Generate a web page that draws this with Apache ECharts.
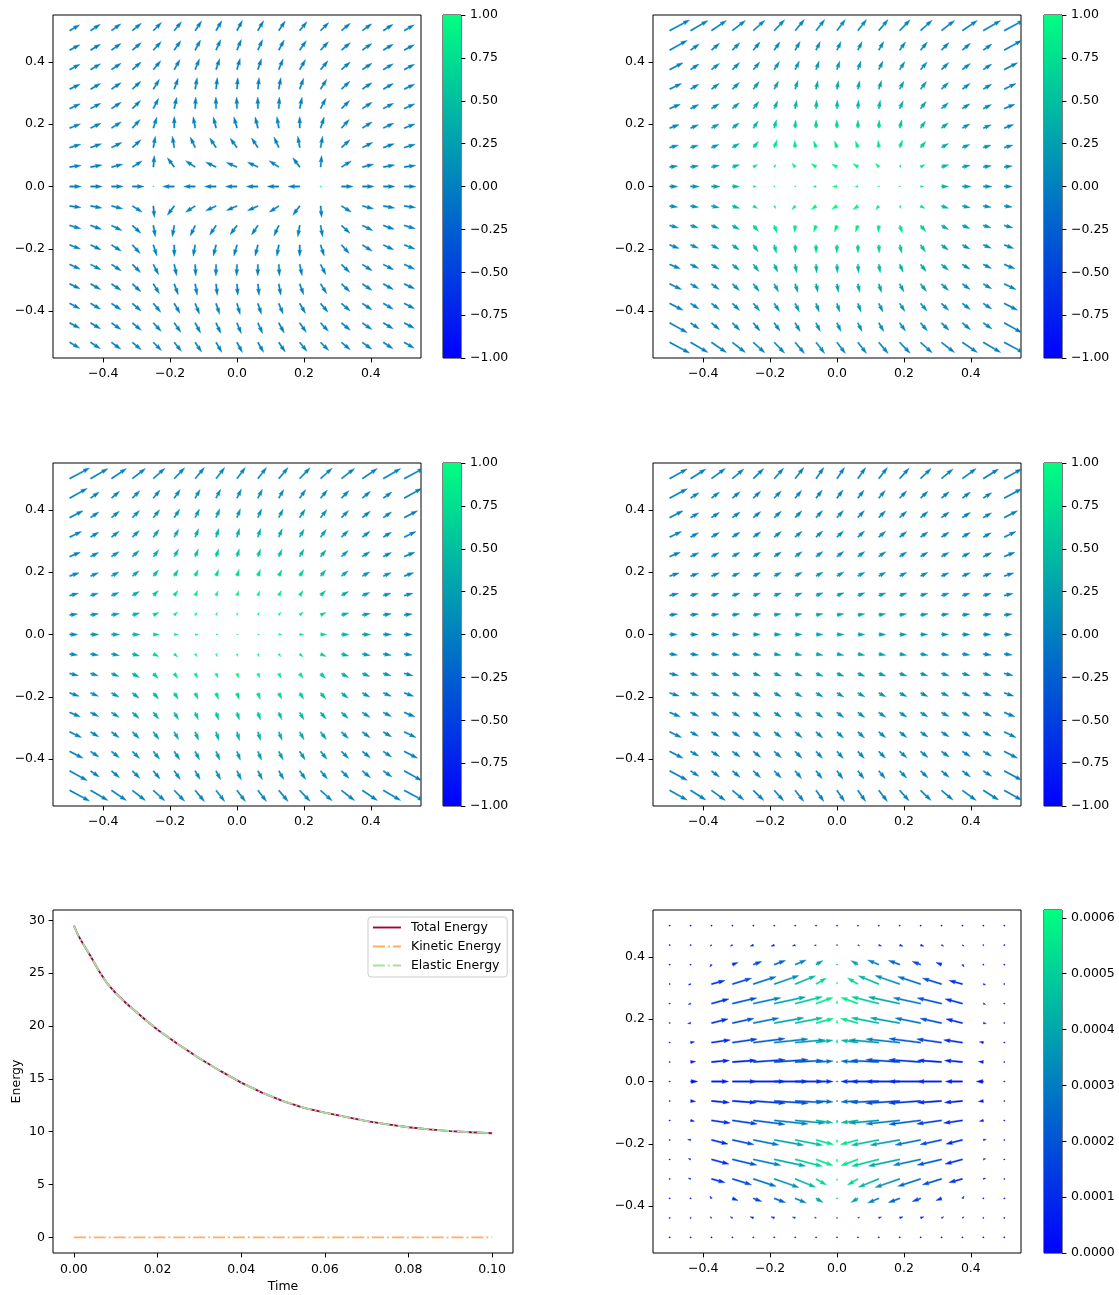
<!DOCTYPE html>
<html><head><meta charset="utf-8">
<script src="https://cdn.jsdelivr.net/npm/echarts@6/dist/echarts.min.js"></script>
<style>html,body{margin:0;padding:0;background:#fff}#c{width:1119px;height:1295px}</style>
</head><body><div id="c"></div><script>
// ---------------- data ----------------
const XS = [-0.5,-0.4375,-0.375,-0.3125,-0.25,-0.1875,-0.125,-0.0625,0,0.0625,0.125,0.1875,0.25,0.3125,0.375,0.4375,0.5];
const YS = [0.5,0.4375,0.375,0.3125,0.25,0.1875,0.125,0.0625,0,-0.0625,-0.125,-0.1875,-0.25,-0.3125,-0.375,-0.4375,-0.5];
const Q_TICKS = [-0.4,-0.2,0,0.2,0.4];
const CB_TICKS = [-1,-0.75,-0.5,-0.25,0,0.25,0.5,0.75,1];
const CB6_TICKS = [0,0.0001,0.0002,0.0003,0.0004,0.0005,0.0006];
const CB6_MAX = 0.000614;
const T_TICKS = [0,0.02,0.04,0.06,0.08,0.1];
const E_TICKS = [0,5,10,15,20,25,30];

// panel 1: normalized direction field (angle in degrees, null = zero vector)
const ANG1 = [
[30,33,36,40,45,51,56,60,62,60,56,51,45,40,36,33,30],
[28,31,35,40,47,55,62,66,68,66,62,55,47,40,35,31,28],
[27,30,34,41,50,60,68,72,74,72,68,60,50,41,34,30,27],
[25,29,34,43,58,70,80,84,86,84,80,70,58,43,34,29,25],
[24,27,33,45,63,78,87,91,92,91,87,78,63,45,33,27,24],
[21,25,32,48,72,90,100,104,106,104,100,90,72,48,32,25,21],
[16,19,26,43,80,100,115,124,127,124,115,100,80,43,26,19,16],
[8,10,14,32,85,127,147,155,157,155,147,127,85,32,14,10,8],
[0,0,0,0,null,180,180,180,180,180,180,180,null,0,0,0,0],
[-8,-10,-14,-32,-85,-127,-147,-155,-157,-155,-147,-127,-85,-32,-14,-10,-8],
[-16,-19,-26,-43,-80,-100,-115,-124,-127,-124,-115,-100,-80,-43,-26,-19,-16],
[-21,-25,-32,-48,-72,-90,-100,-104,-106,-104,-100,-90,-72,-48,-32,-25,-21],
[-24,-27,-33,-45,-63,-78,-87,-91,-92,-91,-87,-78,-63,-45,-33,-27,-24],
[-25,-29,-34,-43,-58,-70,-80,-84,-86,-84,-80,-70,-58,-43,-34,-29,-25],
[-27,-30,-34,-41,-50,-60,-68,-72,-74,-72,-68,-60,-50,-41,-34,-30,-27],
[-28,-31,-35,-40,-47,-55,-62,-66,-68,-66,-62,-55,-47,-40,-35,-31,-28],
[-30,-33,-36,-40,-45,-51,-56,-60,-62,-60,-56,-51,-45,-40,-36,-33,-30]];

// panel 2
const ANG2 = [
[28,30,34,38,42,46,50,52,53,52,50,46,42,38,34,30,28],
[29,35,40,45,50,55,60,64,65,64,60,55,50,45,40,35,29],
[27,33,38,44,50,57,64,70,72,70,64,57,50,44,38,33,27],
[25,30,36,43,52,62,72,78,80,78,72,62,52,43,36,30,25],
[22,26,32,40,52,66,80,86,88,86,80,66,52,40,32,26,22],
[20,22,28,37,55,75,87,90,92,90,87,75,55,37,28,22,20],
[15,17,22,30,50,70,95,110,110,110,95,70,50,30,22,17,15],
[8,9,12,18,30,60,130,145,150,145,130,60,30,18,12,9,8],
[0,0,0,0,0,0,0,180,180,180,0,0,0,0,0,0,0],
[-8,-9,-12,-18,-30,-60,-130,-145,-150,-145,-130,-60,-30,-18,-12,-9,-8],
[-15,-17,-22,-30,-50,-70,-95,-110,-110,-110,-95,-70,-50,-30,-22,-17,-15],
[-20,-22,-28,-37,-55,-75,-87,-90,-92,-90,-87,-75,-55,-37,-28,-22,-20],
[-22,-26,-32,-40,-52,-66,-80,-86,-88,-86,-80,-66,-52,-40,-32,-26,-22],
[-25,-30,-36,-43,-52,-62,-72,-78,-80,-78,-72,-62,-52,-43,-36,-30,-25],
[-27,-33,-38,-44,-50,-57,-64,-70,-72,-70,-64,-57,-50,-44,-38,-33,-27],
[-29,-35,-40,-45,-50,-55,-60,-64,-65,-64,-60,-55,-50,-45,-40,-35,-29],
[-28,-30,-34,-38,-42,-46,-50,-52,-53,-52,-50,-46,-42,-38,-34,-30,-28]];
const MAG2 = [
[22.5,20,18,16.5,15.5,15,14.5,14,14,14,14.5,15,15.5,16.5,18,20,22.5],
[20,10.5,10.5,10.5,10.5,10,10,9.5,9.5,9.5,10,10,10.5,10.5,10.5,10.5,20],
[15,10,10,10,10,9.5,9.5,9,9,9,9.5,9.5,10,10,10,10,15],
[13,9.5,9.5,9.5,9.5,9,9,8.5,8.5,8.5,9,9,9.5,9.5,9.5,9.5,13],
[11.5,9,9,9,9,8.5,8.5,8.5,8.5,8.5,8.5,8.5,9,9,9,9,11.5],
[10,8.5,8.5,8.5,8.5,8.5,8,8,8,8,8,8.5,8.5,8.5,8.5,8.5,10],
[9,8,8,8,8,8,7,7,7,7,7,8,8,8,8,8,9],
[8,8,8,7.5,5,3,5,6,6,6,5,3,5,7.5,8,8,8],
[8,8.5,8.5,7,3,1,1,3,4.5,3,1,1,3,7,8.5,8.5,8],
[8,8,8,7.5,5,3,5,6,6,6,5,3,5,7.5,8,8,8],
[9,8,8,8,8,8,7,7,7,7,7,8,8,8,8,8,9],
[10,8.5,8.5,8.5,8.5,8.5,8,8,8,8,8,8.5,8.5,8.5,8.5,8.5,10],
[11.5,9,9,9,9,8.5,8.5,8.5,8.5,8.5,8.5,8.5,9,9,9,9,11.5],
[13,9.5,9.5,9.5,9.5,9,9,8.5,8.5,8.5,9,9,9.5,9.5,9.5,9.5,13],
[15,10,10,10,10,9.5,9.5,9,9,9,9.5,9.5,10,10,10,10,15],
[20,10.5,10.5,10.5,10.5,10,10,9.5,9.5,9.5,10,10,10.5,10.5,10.5,10.5,20],
[22.5,20,18,16.5,15.5,15,14.5,14,14,14,14.5,15,15.5,16.5,18,20,22.5]];
const COL2 = [
[0,0,0.02,0.03,0.04,0.05,0.07,0.08,0.08,0.08,0.07,0.05,0.04,0.03,0.02,0,0],
[0,0.02,0.03,0.04,0.06,0.08,0.1,0.12,0.12,0.12,0.1,0.08,0.06,0.04,0.03,0.02,0],
[0.01,0.03,0.05,0.08,0.12,0.15,0.18,0.2,0.2,0.2,0.18,0.15,0.12,0.08,0.05,0.03,0.01],
[0.02,0.04,0.07,0.12,0.2,0.25,0.28,0.3,0.3,0.3,0.28,0.25,0.2,0.12,0.07,0.04,0.02],
[0.03,0.06,0.1,0.2,0.3,0.38,0.42,0.45,0.45,0.45,0.42,0.38,0.3,0.2,0.1,0.06,0.03],
[0.05,0.1,0.15,0.28,0.45,0.55,0.62,0.65,0.65,0.65,0.62,0.55,0.45,0.28,0.15,0.1,0.05],
[0.08,0.12,0.2,0.38,0.62,0.78,0.82,0.85,0.85,0.85,0.82,0.78,0.62,0.38,0.2,0.12,0.08],
[0.1,0.15,0.25,0.45,0.75,0.88,0.92,0.95,0.95,0.95,0.92,0.88,0.75,0.45,0.25,0.15,0.1],
[0.1,0.15,0.25,0.45,0.75,0.88,0.92,0.95,0.95,0.95,0.92,0.88,0.75,0.45,0.25,0.15,0.1],
[0.1,0.15,0.25,0.45,0.75,0.88,0.92,0.95,0.95,0.95,0.92,0.88,0.75,0.45,0.25,0.15,0.1],
[0.08,0.12,0.2,0.38,0.62,0.78,0.82,0.85,0.85,0.85,0.82,0.78,0.62,0.38,0.2,0.12,0.08],
[0.05,0.1,0.15,0.28,0.45,0.55,0.62,0.65,0.65,0.65,0.62,0.55,0.45,0.28,0.15,0.1,0.05],
[0.03,0.06,0.1,0.2,0.3,0.38,0.42,0.45,0.45,0.45,0.42,0.38,0.3,0.2,0.1,0.06,0.03],
[0.02,0.04,0.07,0.12,0.2,0.25,0.28,0.3,0.3,0.3,0.28,0.25,0.2,0.12,0.07,0.04,0.02],
[0.01,0.03,0.05,0.08,0.12,0.15,0.18,0.2,0.2,0.2,0.18,0.15,0.12,0.08,0.05,0.03,0.01],
[0,0.02,0.03,0.04,0.06,0.08,0.1,0.12,0.12,0.12,0.1,0.08,0.06,0.04,0.03,0.02,0],
[0,0,0.02,0.03,0.04,0.05,0.07,0.08,0.08,0.08,0.07,0.05,0.04,0.03,0.02,0,0]];

// panel 3
const ANG3 = [
[28,30,34,38,42,46,50,52,53,52,50,46,42,38,34,30,28],
[29,35,40,45,50,55,60,63,64,63,60,55,50,45,40,35,29],
[27,34,39,45,51,57,63,67,69,67,63,57,51,45,39,34,27],
[25,31,37,44,53,61,68,72,74,72,68,61,53,44,37,31,25],
[22,27,33,42,51,60,67,71,73,71,67,60,51,42,33,27,22],
[19,23,29,38,50,58,65,70,72,70,65,58,50,38,29,23,19],
[14,17,22,30,45,55,63,68,70,68,63,55,45,30,22,17,14],
[8,9,11,15,25,40,55,65,75,65,55,40,25,15,11,9,8],
[0,0,0,0,0,0,0,0,0,0,0,0,0,0,0,0,0],
[-8,-9,-11,-15,-25,-40,-55,-65,-75,-65,-55,-40,-25,-15,-11,-9,-8],
[-14,-17,-22,-30,-45,-55,-63,-68,-70,-68,-63,-55,-45,-30,-22,-17,-14],
[-19,-23,-29,-38,-50,-58,-65,-70,-72,-70,-65,-58,-50,-38,-29,-23,-19],
[-22,-27,-33,-42,-51,-60,-67,-71,-73,-71,-67,-60,-51,-42,-33,-27,-22],
[-25,-31,-37,-44,-53,-61,-68,-72,-74,-72,-68,-61,-53,-44,-37,-31,-25],
[-27,-34,-39,-45,-51,-57,-63,-67,-69,-67,-63,-57,-51,-45,-39,-34,-27],
[-29,-35,-40,-45,-50,-55,-60,-63,-64,-63,-60,-55,-50,-45,-40,-35,-29],
[-28,-30,-34,-38,-42,-46,-50,-52,-53,-52,-50,-46,-42,-38,-34,-30,-28]];
const MAG3 = [
[22.5,20,18,16.5,15.5,15,14.5,14,14,14,14.5,15,15.5,16.5,18,20,22.5],
[20,10.5,10.5,10.5,10.5,10.5,10,10,10,10,10,10.5,10.5,10.5,10.5,10.5,20],
[15,10,10,10,10,10,9.5,9.5,9.5,9.5,9.5,10,10,10,10,10,15],
[13,9.5,9.5,9.5,9.5,9,9,9,9,9,9,9,9.5,9.5,9.5,9.5,13],
[11.5,9,9,9,8.5,8.5,8,8,8,8,8,8.5,8.5,9,9,9,11.5],
[10,8.5,8.5,8.5,8,7.5,7,7,7,7,7,7.5,8,8.5,8.5,8.5,10],
[9,8,8,8,7,6,5.5,5,5,5,5.5,6,7,8,8,8,9],
[8,8,8,7.5,6,4.5,3.5,3,2.5,3,3.5,4.5,6,7.5,8,8,8],
[8,8,8,7.5,6,4,3,2,1.5,2,3,4,6,7.5,8,8,8],
[8,8,8,7.5,6,4.5,3.5,3,2.5,3,3.5,4.5,6,7.5,8,8,8],
[9,8,8,8,7,6,5.5,5,5,5,5.5,6,7,8,8,8,9],
[10,8.5,8.5,8.5,8,7.5,7,7,7,7,7,7.5,8,8.5,8.5,8.5,10],
[11.5,9,9,9,8.5,8.5,8,8,8,8,8,8.5,8.5,9,9,9,11.5],
[13,9.5,9.5,9.5,9.5,9,9,9,9,9,9,9,9.5,9.5,9.5,9.5,13],
[15,10,10,10,10,10,9.5,9.5,9.5,9.5,9.5,10,10,10,10,10,15],
[20,10.5,10.5,10.5,10.5,10.5,10,10,10,10,10,10.5,10.5,10.5,10.5,10.5,20],
[22.5,20,18,16.5,15.5,15,14.5,14,14,14,14.5,15,15.5,16.5,18,20,22.5]];
const COL3 = [
[0,0,0.02,0.03,0.04,0.05,0.06,0.07,0.07,0.07,0.06,0.05,0.04,0.03,0.02,0,0],
[0,0.02,0.03,0.05,0.07,0.09,0.11,0.12,0.12,0.12,0.11,0.09,0.07,0.05,0.03,0.02,0],
[0.01,0.03,0.05,0.09,0.13,0.17,0.2,0.22,0.22,0.22,0.2,0.17,0.13,0.09,0.05,0.03,0.01],
[0.02,0.04,0.08,0.14,0.22,0.3,0.35,0.38,0.38,0.38,0.35,0.3,0.22,0.14,0.08,0.04,0.02],
[0.03,0.06,0.12,0.22,0.34,0.45,0.52,0.55,0.56,0.55,0.52,0.45,0.34,0.22,0.12,0.06,0.03],
[0.05,0.09,0.17,0.3,0.46,0.6,0.7,0.74,0.75,0.74,0.7,0.6,0.46,0.3,0.17,0.09,0.05],
[0.07,0.12,0.22,0.38,0.58,0.74,0.84,0.88,0.9,0.88,0.84,0.74,0.58,0.38,0.22,0.12,0.07],
[0.08,0.14,0.25,0.43,0.65,0.82,0.92,0.96,0.97,0.96,0.92,0.82,0.65,0.43,0.25,0.14,0.08],
[0.08,0.15,0.26,0.45,0.67,0.84,0.94,0.98,0.99,0.98,0.94,0.84,0.67,0.45,0.26,0.15,0.08],
[0.08,0.14,0.25,0.43,0.65,0.82,0.92,0.96,0.97,0.96,0.92,0.82,0.65,0.43,0.25,0.14,0.08],
[0.07,0.12,0.22,0.38,0.58,0.74,0.84,0.88,0.9,0.88,0.84,0.74,0.58,0.38,0.22,0.12,0.07],
[0.05,0.09,0.17,0.3,0.46,0.6,0.7,0.74,0.75,0.74,0.7,0.6,0.46,0.3,0.17,0.09,0.05],
[0.03,0.06,0.12,0.22,0.34,0.45,0.52,0.55,0.56,0.55,0.52,0.45,0.34,0.22,0.12,0.06,0.03],
[0.02,0.04,0.08,0.14,0.22,0.3,0.35,0.38,0.38,0.38,0.35,0.3,0.22,0.14,0.08,0.04,0.02],
[0.01,0.03,0.05,0.09,0.13,0.17,0.2,0.22,0.22,0.22,0.2,0.17,0.13,0.09,0.05,0.03,0.01],
[0,0.02,0.03,0.05,0.07,0.09,0.11,0.12,0.12,0.12,0.11,0.09,0.07,0.05,0.03,0.02,0],
[0,0,0.02,0.03,0.04,0.05,0.06,0.07,0.07,0.07,0.06,0.05,0.04,0.03,0.02,0,0]];

// panel 4
const ANG4 = [
[29,32,36,40,44,48,52,55,56,55,52,48,44,40,36,32,29],
[28,33,37,40,43,46,50,52,53,52,50,46,43,40,37,33,28],
[27,30,33,36,39,42,45,47,48,47,45,42,39,36,33,30,27],
[25,28,30,33,35,38,40,42,43,42,40,38,35,33,30,28,25],
[22,25,27,29,31,33,35,36,37,36,35,33,31,29,27,25,22],
[18,20,22,24,26,27,28,29,30,29,28,27,26,24,22,20,18],
[13,15,16,17,18,19,20,21,21,21,20,19,18,17,16,15,13],
[7,8,8,9,9,10,10,10,10,10,10,10,9,9,8,8,7],
[0,0,0,0,0,0,0,0,0,0,0,0,0,0,0,0,0],
[-7,-8,-8,-9,-9,-10,-10,-10,-10,-10,-10,-10,-9,-9,-8,-8,-7],
[-13,-15,-16,-17,-18,-19,-20,-21,-21,-21,-20,-19,-18,-17,-16,-15,-13],
[-18,-20,-22,-24,-26,-27,-28,-29,-30,-29,-28,-27,-26,-24,-22,-20,-18],
[-22,-25,-27,-29,-31,-33,-35,-36,-37,-36,-35,-33,-31,-29,-27,-25,-22],
[-25,-28,-30,-33,-35,-38,-40,-42,-43,-42,-40,-38,-35,-33,-30,-28,-25],
[-27,-30,-33,-36,-39,-42,-45,-47,-48,-47,-45,-42,-39,-36,-33,-30,-27],
[-28,-33,-37,-40,-43,-46,-50,-52,-53,-52,-50,-46,-43,-40,-37,-33,-28],
[-29,-32,-36,-40,-44,-48,-52,-55,-56,-55,-52,-48,-44,-40,-36,-32,-29]];
const MAG4 = [
[20,18,17,15,14.5,14,14,13.5,13.5,13.5,14,14,14.5,15,17,18,20],
[20,10,10,10,10,10,10,10,10,10,10,10,10,10,10,10,20],
[15,9.5,9.5,9.5,9.5,9.5,9.5,9.5,9.5,9.5,9.5,9.5,9.5,9.5,9.5,9.5,15],
[13,9,9,9,9,9,9,9,9,9,9,9,9,9,9,9,13],
[11.5,9,8.5,8.5,8.5,8.5,8.5,8.5,8.5,8.5,8.5,8.5,8.5,8.5,8.5,9,11.5],
[10,8.5,8.5,8,8,8,8,8,8,8,8,8,8,8,8.5,8.5,10],
[9,8,8,8,7.5,7.5,7.5,7.5,7.5,7.5,7.5,7.5,7.5,8,8,8,9],
[8,8,7.5,7.5,7.5,7,7,7,7,7,7,7,7.5,7.5,7.5,8,8],
[7.5,7.5,7.5,7,7,7,7,7,7,7,7,7,7,7,7.5,7.5,7.5],
[8,8,7.5,7.5,7.5,7,7,7,7,7,7,7,7.5,7.5,7.5,8,8],
[9,8,8,8,7.5,7.5,7.5,7.5,7.5,7.5,7.5,7.5,7.5,8,8,8,9],
[10,8.5,8.5,8,8,8,8,8,8,8,8,8,8,8,8.5,8.5,10],
[11.5,9,8.5,8.5,8.5,8.5,8.5,8.5,8.5,8.5,8.5,8.5,8.5,8.5,8.5,9,11.5],
[13,9,9,9,9,9,9,9,9,9,9,9,9,9,9,9,13],
[15,9.5,9.5,9.5,9.5,9.5,9.5,9.5,9.5,9.5,9.5,9.5,9.5,9.5,9.5,9.5,15],
[20,10,10,10,10,10,10,10,10,10,10,10,10,10,10,10,20],
[20,18,17,15,14.5,14,14,13.5,13.5,13.5,14,14,14.5,15,17,18,20]];
const COL4 = [
[0,0,0,0,0,0,0,0,0,0,0,0,0,0,0,0,0],
[0,0,0,0,0.01,0.02,0.03,0.03,0.03,0.03,0.03,0.02,0.01,0,0,0,0],
[0,0,0.01,0.02,0.03,0.04,0.05,0.05,0.05,0.05,0.05,0.04,0.03,0.02,0.01,0,0],
[0,0.01,0.02,0.03,0.05,0.07,0.08,0.09,0.09,0.09,0.08,0.07,0.05,0.03,0.02,0.01,0],
[0.01,0.02,0.03,0.05,0.08,0.1,0.12,0.13,0.13,0.13,0.12,0.1,0.08,0.05,0.03,0.02,0.01],
[0.02,0.03,0.05,0.08,0.11,0.14,0.17,0.19,0.2,0.19,0.17,0.14,0.11,0.08,0.05,0.03,0.02],
[0.03,0.05,0.07,0.1,0.14,0.18,0.22,0.25,0.26,0.25,0.22,0.18,0.14,0.1,0.07,0.05,0.03],
[0.04,0.06,0.09,0.13,0.18,0.23,0.28,0.31,0.32,0.31,0.28,0.23,0.18,0.13,0.09,0.06,0.04],
[0.04,0.07,0.1,0.14,0.19,0.25,0.3,0.33,0.35,0.33,0.3,0.25,0.19,0.14,0.1,0.07,0.04],
[0.04,0.06,0.09,0.13,0.18,0.23,0.28,0.31,0.32,0.31,0.28,0.23,0.18,0.13,0.09,0.06,0.04],
[0.03,0.05,0.07,0.1,0.14,0.18,0.22,0.25,0.26,0.25,0.22,0.18,0.14,0.1,0.07,0.05,0.03],
[0.02,0.03,0.05,0.08,0.11,0.14,0.17,0.19,0.2,0.19,0.17,0.14,0.11,0.08,0.05,0.03,0.02],
[0.01,0.02,0.03,0.05,0.08,0.1,0.12,0.13,0.13,0.13,0.12,0.1,0.08,0.05,0.03,0.02,0.01],
[0,0.01,0.02,0.03,0.05,0.07,0.08,0.09,0.09,0.09,0.08,0.07,0.05,0.03,0.02,0.01,0],
[0,0,0.01,0.02,0.03,0.04,0.05,0.05,0.05,0.05,0.05,0.04,0.03,0.02,0.01,0,0],
[0,0,0,0,0.01,0.02,0.03,0.03,0.03,0.03,0.03,0.02,0.01,0,0,0,0],
[0,0,0,0,0,0,0,0,0,0,0,0,0,0,0,0,0]];

// panel 6 (colour values in units of 1e-4)
const ANG6 = [
[0,0,0,0,0,0,0,0,0,0,0,0,0,0,0,0,0],
[0,210,215,205,200,200,200,200,90,-20,-20,-20,-20,-25,-35,-30,0],
[0,240,235,20,20,20,22,30,90,150,158,160,160,160,-55,-60,0],
[0,200,15,17,18,19,22,30,90,150,158,161,162,163,165,-20,0],
[0,200,15,13,12,12,14,20,90,160,166,168,168,167,165,-20,0],
[0,190,14,12,11,10,11,15,90,165,169,170,169,168,166,-10,0],
[0,10,8,8,7,6,5,8,90,172,175,174,173,172,172,170,0],
[0,5,5,4,4,4,3,3,90,177,177,176,176,176,175,175,0],
[0,0,0,0,0,0,0,0,0,180,180,180,180,180,180,180,0],
[0,-5,-5,-4,-4,-4,-3,-3,-90,-177,-177,-176,-176,-176,-175,-175,0],
[0,-10,-8,-8,-7,-6,-5,-8,-90,-172,-175,-174,-173,-172,-172,-170,0],
[0,-190,-14,-12,-11,-10,-11,-15,-90,-165,-169,-170,-169,-168,-166,10,0],
[0,-200,-15,-13,-12,-12,-14,-20,-90,-160,-166,-168,-168,-167,-165,20,0],
[0,-200,-15,-17,-18,-19,-22,-30,-90,-150,-158,-161,-162,-163,-165,20,0],
[0,-240,-235,-20,-20,-20,-22,-30,-90,-150,-158,-160,-160,-160,55,60,0],
[0,-210,-215,-205,-200,-200,-200,-200,-90,20,20,20,20,25,35,30,0],
[0,0,0,0,0,0,0,0,0,0,0,0,0,0,0,0,0]];
const MAG6 = [
[0,0,0,0,0,0,0,0,0,0,0,0,0,0,0,0,0],
[0,0.5,2,2.5,3.5,3.5,3,2,0.3,2,3,3.5,3.5,2.5,2,0.5,0],
[0,0.8,3,6,9,12,12,8,1,8,12,12,9,6,3,0.8,0],
[0,2.5,14,20,24,26,22,12,2,12,22,26,24,20,14,2.5,0],
[0,2.5,18,25,28,32,28,18,3,18,28,32,28,25,18,2.5,0],
[0,3,17,22,26,30,28,18,3,18,28,30,26,22,17,3,0],
[0,4,19,25,32,34,30,17,3,17,30,34,32,25,19,4,0],
[0,5,18,24,32,34,28,17,0.5,17,28,34,32,24,18,5,0],
[0,7,17,24,32,34,28,17,0,17,28,34,32,24,17,7,0],
[0,5,18,24,32,34,28,17,0.5,17,28,34,32,24,18,5,0],
[0,4,19,25,32,34,30,17,3,17,30,34,32,25,19,4,0],
[0,3,17,22,26,30,28,18,3,18,28,30,26,22,17,3,0],
[0,2.5,18,25,28,32,28,18,3,18,28,32,28,25,18,2.5,0],
[0,2.5,14,20,24,26,22,12,2,12,22,26,24,20,14,2.5,0],
[0,0.8,3,6,9,12,12,8,1,8,12,12,9,6,3,0.8,0],
[0,0.5,2,2.5,3.5,3.5,3,2,0.3,2,3,3.5,3.5,2.5,2,0.5,0],
[0,0,0,0,0,0,0,0,0,0,0,0,0,0,0,0,0]];
const COL6 = [
[0,0,0,0,0,0,0,0,0,0,0,0,0,0,0,0,0],
[0,0.3,0.5,0.7,0.9,1.1,1.3,1.6,1.9,1.6,1.3,1.1,0.9,0.7,0.5,0.3,0],
[0,0.5,0.9,1.3,1.8,2.4,3.1,3.9,4.5,3.9,3.1,2.4,1.8,1.3,0.9,0.5,0],
[0,0.7,1.1,1.8,2.7,3.5,4.4,5.2,5.8,5.2,4.4,3.5,2.7,1.8,1.1,0.7,0],
[0,0.8,1.2,2,3,4,4.9,5.6,6.1,5.6,4.9,4,3,2,1.2,0.8,0],
[0,0.8,1.1,1.8,2.8,3.8,4.6,5.4,6,5.4,4.6,3.8,2.8,1.8,1.1,0.8,0],
[0,0.7,1,1.5,2.2,3,3.6,4.4,5,4.4,3.6,3,2.2,1.5,1,0.7,0],
[0,0.5,0.8,1,1.4,1.8,2.2,2.6,3,2.6,2.2,1.8,1.4,1,0.8,0.5,0],
[0,0.4,0.6,0.8,0.9,1,1.1,1.2,1.3,1.2,1.1,1,0.9,0.8,0.6,0.4,0],
[0,0.5,0.8,1,1.4,1.8,2.2,2.6,3,2.6,2.2,1.8,1.4,1,0.8,0.5,0],
[0,0.7,1,1.5,2.2,3,3.6,4.4,5,4.4,3.6,3,2.2,1.5,1,0.7,0],
[0,0.8,1.1,1.8,2.8,3.8,4.6,5.4,6,5.4,4.6,3.8,2.8,1.8,1.1,0.8,0],
[0,0.8,1.2,2,3,4,4.9,5.6,6.1,5.6,4.9,4,3,2,1.2,0.8,0],
[0,0.7,1.1,1.8,2.7,3.5,4.4,5.2,5.8,5.2,4.4,3.5,2.7,1.8,1.1,0.7,0],
[0,0.5,0.9,1.3,1.8,2.4,3.1,3.9,4.5,3.9,3.1,2.4,1.8,1.3,0.9,0.5,0],
[0,0.3,0.5,0.7,0.9,1.1,1.3,1.6,1.9,1.6,1.3,1.1,0.9,0.7,0.5,0.3,0],
[0,0,0,0,0,0,0,0,0,0,0,0,0,0,0,0,0]];
const COL6_UNIT = 1e-4;

// energy curves
const TIME = [0,0.001,0.002,0.004,0.006,0.008,0.01,0.0125,0.015,0.0175,0.02,0.025,0.03,0.035,0.04,0.045,0.05,0.055,0.06,0.065,0.07,0.075,0.08,0.085,0.09,0.095,0.1];
const TOTAL = [29.5,28.6,27.9,26.6,25.2,24.0,23.1,22.15,21.3,20.45,19.65,18.25,16.95,15.75,14.65,13.7,12.9,12.25,11.8,11.4,11.0,10.7,10.42,10.22,10.06,9.95,9.85];
const KINETIC = [0,0,0,0,0,0,0,0,0,0,0,0,0,0,0,0,0,0,0,0,0,0,0,0,0,0,0];
const ELASTIC = [29.5,28.6,27.9,26.6,25.2,24.0,23.1,22.15,21.3,20.45,19.65,18.25,16.95,15.75,14.65,13.7,12.9,12.25,11.8,11.4,11.0,10.7,10.42,10.22,10.06,9.95,9.85];

// ---------------- drawing ----------------
const FONT = 'DejaVu Sans';
const FS = 12.5;
const SHAFT_W = 1.3;
function winter(t){ t=Math.max(0,Math.min(1,t)); return 'rgb(0,'+Math.round(255*t)+','+Math.round(255*(1-0.5*t))+')'; }
function fmt(v,d){ const s=Math.abs(v).toFixed(d); return (v<0 && parseFloat(s)!==0 ? '\u2212' : '') + s; }

function arrowPoints(px, py, angDeg, Lpx, w){
  const l = Lpx / w; let X, Y;
  if (!(l >= 1)) {
    X=[];Y=[];
    for (let k=0;k<6;k++){ const th=k*Math.PI/3; X.push(Math.cos(th)*0.5); Y.push(Math.sin(th)*0.5); }
  } else {
    const HL=5, HAL=4.5, HW=3, MINSH=5;
    if (l < MINSH) { const s=l/MINSH;
      X=[0,MINSH-HAL,MINSH-HL,MINSH,MINSH-HL,MINSH-HAL,0].map(v=>v*s);
      Y=[0.5,0.5,HW/2,0,-HW/2,-0.5,-0.5].map(v=>v*s);
    } else {
      X=[0,l-HAL,l-HL,l,l-HL,l-HAL,0];
      Y=[0.5,0.5,HW/2,0,-HW/2,-0.5,-0.5];
    }
  }
  const a=angDeg*Math.PI/180, ca=Math.cos(a), sa=Math.sin(a);
  return X.map((x,i)=>[px + w*(x*ca - Y[i]*sa), py - w*(x*sa + Y[i]*ca)]);
}
function quiverData(ang, mag, col, tipVal){
  const out=[];
  for (let r=0;r<YS.length;r++) for (let c=0;c<XS.length;c++){
    const a=ang[r][c];
    const m = mag ? mag[r][c] : (a===null ? 0 : 1);
    const v = col ? col[r][c] : (a===null ? tipVal : 0);
    out.push([XS[c], YS[r], a===null?0:a, m, v]);
  }
  return out;
}
function quiverSeries(idx, data, cfg){
  return { type:'custom', xAxisIndex:idx, yAxisIndex:idx, coordinateSystem:'cartesian2d', clip:true, silent:true,
    data:data,
    renderItem:function(params, api){
      const p=api.coord([api.value(0), api.value(1)]);
      const pts=arrowPoints(p[0], p[1], api.value(2), api.value(3)*cfg.scale, SHAFT_W);
      const color=winter((api.value(4)*cfg.unit - cfg.vmin)/(cfg.vmax-cfg.vmin));
      return { type:'polygon', shape:{points:pts}, style:{fill:color, stroke:color, lineWidth:0.4} };
    }};
}
function cbSeries(idx, vmin, vmax){
  return { type:'custom', xAxisIndex:idx, yAxisIndex:idx, coordinateSystem:'cartesian2d', silent:true,
    data:[[0, vmin, vmax]],
    renderItem:function(params, api){
      const p0=api.coord([0, api.value(1)]), p1=api.coord([1, api.value(2)]);
      return { type:'rect', shape:{x:p0[0], y:p1[1], width:p1[0]-p0[0], height:p0[1]-p1[1]},
        style:{fill:{type:'linear',x:0,y:0,x2:0,y2:1,colorStops:[{offset:0,color:winter(1)},{offset:1,color:winter(0)}]}} };
    }};
}

const PLOT_W=368, PLOT_H=343, CB_W=18;
const gridDefs = [
  {left:53, top:15, width:PLOT_W, height:PLOT_H, kind:'q'},
  {left:443, top:15, width:CB_W, height:PLOT_H, kind:'cb'},
  {left:653, top:15, width:PLOT_W, height:PLOT_H, kind:'q'},
  {left:1044, top:15, width:CB_W, height:PLOT_H, kind:'cb'},
  {left:53, top:463, width:PLOT_W, height:PLOT_H, kind:'q'},
  {left:443, top:463, width:CB_W, height:PLOT_H, kind:'cb'},
  {left:653, top:463, width:PLOT_W, height:PLOT_H, kind:'q'},
  {left:1044, top:463, width:CB_W, height:PLOT_H, kind:'cb'},
  {left:53, top:910, width:460, height:PLOT_H, kind:'e'},
  {left:653, top:910, width:PLOT_W, height:PLOT_H, kind:'q'},
  {left:1044, top:910, width:CB_W, height:PLOT_H, kind:'cb6'}
];
const lblStyle = {fontFamily:FONT, fontSize:FS, color:'#000'};
const tickStyle = {show:true, inside:false, length:4.4, lineStyle:{color:'#000', width:1}};
const grids=[], xAxes=[], yAxes=[];
gridDefs.forEach((g,i)=>{
  grids.push({left:g.left, top:g.top, width:g.width, height:g.height, show:true, borderColor:'#000', borderWidth:1, containLabel:false});
  const base = {gridIndex:i, type:'value', axisLine:{show:false, onZero:false}, splitLine:{show:false}};
  if (g.kind==='q'){
    xAxes.push(Object.assign({}, base, {position:'bottom', min:-0.55, max:0.55, axisTick:Object.assign({customValues:Q_TICKS}, tickStyle),
      axisLabel:Object.assign({customValues:Q_TICKS, margin:9, formatter:v=>fmt(v,1)}, lblStyle)}));
    yAxes.push(Object.assign({}, base, {position:'left', min:-0.55, max:0.55, axisTick:Object.assign({customValues:Q_TICKS}, tickStyle),
      axisLabel:Object.assign({customValues:Q_TICKS, margin:8, formatter:v=>fmt(v,1)}, lblStyle)}));
  } else if (g.kind==='cb' || g.kind==='cb6'){
    const t = g.kind==='cb' ? CB_TICKS : CB6_TICKS;
    xAxes.push(Object.assign({}, base, {min:0, max:1, show:false}));
    yAxes.push(Object.assign({}, base, {position:'right', min:t[0], max:g.kind==='cb'?1:CB6_MAX,
      axisTick:Object.assign({customValues:t}, tickStyle),
      axisLabel:Object.assign({customValues:t, margin:9, formatter:v=> g.kind==='cb'?fmt(v,2):v.toFixed(4)}, lblStyle)}));
  } else {
    xAxes.push(Object.assign({}, base, {position:'bottom', min:-0.005, max:0.105, axisTick:Object.assign({customValues:T_TICKS}, tickStyle),
      axisLabel:Object.assign({customValues:T_TICKS, margin:10, formatter:v=>fmt(v,2)}, lblStyle),
      name:'Time', nameLocation:'middle', nameGap:27, nameTextStyle:lblStyle}));
    yAxes.push(Object.assign({}, base, {position:'left', min:-1.475, max:30.975, axisTick:Object.assign({customValues:E_TICKS}, tickStyle),
      axisLabel:Object.assign({customValues:E_TICKS, margin:8, formatter:v=>String(Math.round(v))}, lblStyle),
      name:'Energy', nameLocation:'middle', nameGap:30, nameTextStyle:lblStyle}));
  }
});

const LW = 1.875;
const DASHDOT = [12, 3, 1.875, 3];
const series = [
  quiverSeries(0, quiverData(ANG1, null, null, 1), {scale:11.5, unit:1, vmin:-1, vmax:1}),
  cbSeries(1, -1, 1),
  quiverSeries(2, quiverData(ANG2, MAG2, COL2), {scale:1, unit:1, vmin:-1, vmax:1}),
  cbSeries(3, -1, 1),
  quiverSeries(4, quiverData(ANG3, MAG3, COL3), {scale:1, unit:1, vmin:-1, vmax:1}),
  cbSeries(5, -1, 1),
  quiverSeries(6, quiverData(ANG4, MAG4, COL4), {scale:1, unit:1, vmin:-1, vmax:1}),
  cbSeries(7, -1, 1),
  {type:'line', name:'Total Energy', xAxisIndex:8, yAxisIndex:8, data:TIME.map((t,i)=>[t,TOTAL[i]]), symbol:'none', showSymbol:false,
    lineStyle:{color:'#9e0142', width:LW}, itemStyle:{color:'#9e0142'}},
  {type:'line', name:'Kinetic Energy', xAxisIndex:8, yAxisIndex:8, data:TIME.map((t,i)=>[t,KINETIC[i]]), symbol:'none', showSymbol:false,
    lineStyle:{color:'#fdae61', width:LW, type:DASHDOT}, itemStyle:{color:'#fdae61'}},
  {type:'line', name:'Elastic Energy', xAxisIndex:8, yAxisIndex:8, data:TIME.map((t,i)=>[t,ELASTIC[i]]), symbol:'none', showSymbol:false,
    lineStyle:{color:'#abdda4', width:LW, type:DASHDOT}, itemStyle:{color:'#abdda4'}},
  quiverSeries(9, quiverData(ANG6, MAG6, COL6), {scale:1, unit:COL6_UNIT, vmin:0, vmax:CB6_MAX}),
  cbSeries(10, 0, CB6_MAX)
];

const chart = echarts.init(document.getElementById('c'), null, {renderer:'canvas'});
chart.setOption({
  animation:false,
  backgroundColor:'#fff',
  grid:grids, xAxis:xAxes, yAxis:yAxes,
  legend:{
    data:[
      {name:'Total Energy', lineStyle:{color:'#9e0142', width:LW, type:'solid'}},
      {name:'Kinetic Energy', lineStyle:{color:'#fdae61', width:LW, type:DASHDOT}},
      {name:'Elastic Energy', lineStyle:{color:'#abdda4', width:LW, type:DASHDOT}}],
    orient:'vertical', left:368, top:917,
    itemWidth:28, itemHeight:12, itemGap:4, padding:[3,6,4,4],
    itemStyle:{opacity:0},
    backgroundColor:'rgba(255,255,255,0.8)', borderColor:'#cccccc', borderWidth:1, borderRadius:3,
    textStyle:{fontFamily:FONT, fontSize:FS, color:'#000', lineHeight:15, padding:[0,0,0,5]}},
  series:series
});
</script></body></html>
